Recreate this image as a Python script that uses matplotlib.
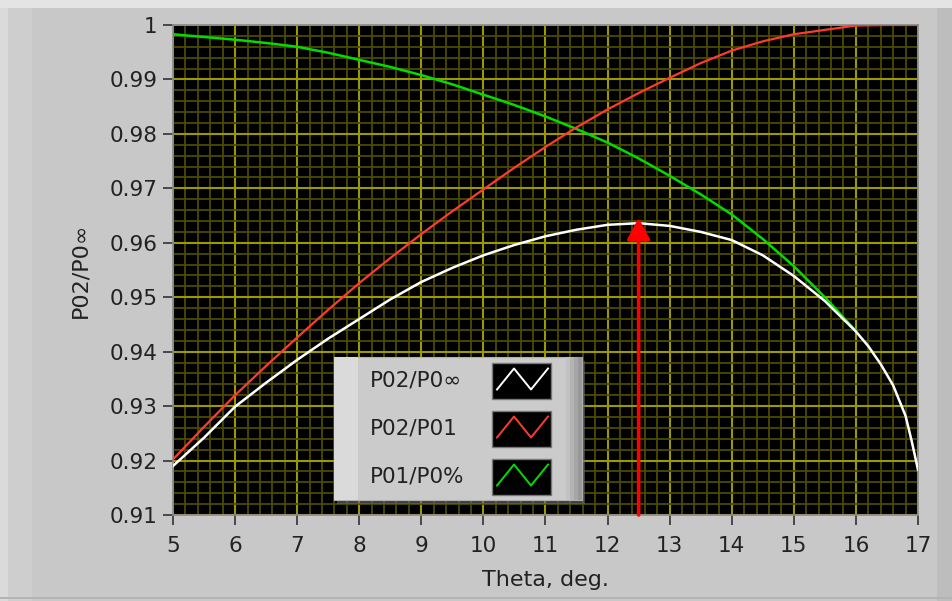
import matplotlib
matplotlib.use("Agg")
import matplotlib.pyplot as plt
from matplotlib.patches import Rectangle
from matplotlib.lines import Line2D
from matplotlib.ticker import MultipleLocator

# ---- data -------------------------------------------------------------
theta_main = [5, 5.5, 6, 6.5, 7, 7.5, 8, 8.5, 9, 9.5, 10, 10.5, 11, 11.5,
              12, 12.5, 13, 13.5, 14, 14.5, 15, 15.5, 16]
theta_tail = [16.2, 16.4, 16.6, 16.8, 16.9, 17]

p02_p0inf = [0.9190, 0.9242, 0.9299, 0.9343, 0.9385, 0.9424, 0.9460, 0.9496,
             0.9528, 0.9554, 0.9577, 0.9596, 0.9612, 0.9624, 0.9633, 0.9636,
             0.9631, 0.9620, 0.9605, 0.9577, 0.9539, 0.9493, 0.9437,
             0.9410, 0.9377, 0.9338, 0.9282, 0.9235, 0.9183]

theta_red = theta_main + [16.5, 17]
p02_p01 = [0.9202, 0.9262, 0.9320, 0.9374, 0.9426, 0.9477, 0.9526, 0.9572,
           0.9616, 0.9658, 0.9698, 0.9738, 0.9776, 0.9812, 0.9845, 0.9875,
           0.9903, 0.9930, 0.9953, 0.9970, 0.9983, 0.9991, 0.9999,
           1.0, 1.0]

p01_p0 = [0.9983, 0.9978, 0.9973, 0.9967, 0.9960, 0.9949, 0.9936, 0.9923,
          0.9908, 0.9891, 0.9872, 0.9853, 0.9832, 0.9809, 0.9784, 0.9755,
          0.9723, 0.9689, 0.9652, 0.9607, 0.9557, 0.9500, 0.9438]

series_names = ["P02/P0\u221e", "P02/P01", "P01/P0%"]
series_colors = ["#ffffff", "#ff3b30", "#00dd00"]

marker_theta = 12.5
marker_top = 0.9646
y_floor = 0.91

x_ticks = list(range(5, 18))
y_ticks = [0.91, 0.92, 0.93, 0.94, 0.95, 0.96, 0.97, 0.98, 0.99, 1.0]
y_tick_labels = ["0.91", "0.92", "0.93", "0.94", "0.95", "0.96", "0.97",
                 "0.98", "0.99", "1"]

# ---- figure -----------------------------------------------------------
W, H = 953, 601
fig = plt.figure(figsize=(W / 100, H / 100), dpi=100)
fig.patch.set_facecolor("#c8c8c8")

# panel bezel
fig.add_artist(Rectangle((0, 0), 1, 1, transform=fig.transFigure,
                         facecolor="#c8c8c8", edgecolor="none", zorder=-10))
fig.add_artist(Rectangle((0, 0), 8 / W, 1, transform=fig.transFigure,
                         facecolor="#dadada", edgecolor="none", zorder=-9))
fig.add_artist(Rectangle((8 / W, 0), 24 / W, 1 - 8 / H, transform=fig.transFigure,
                         facecolor="#cecece", edgecolor="none", zorder=-9))
fig.add_artist(Rectangle((0, 1 - 8 / H), 1, 8 / H, transform=fig.transFigure,
                         facecolor="#e4e4e4", edgecolor="none", zorder=-9))
fig.add_artist(Rectangle((937 / W, 0), 16 / W, 1 - 8 / H, transform=fig.transFigure,
                         facecolor="#bdbdbd", edgecolor="none", zorder=-9))
fig.add_artist(Rectangle((0, 2 / H), 1, 2 / H, transform=fig.transFigure,
                         facecolor="#b4b4b4", edgecolor="none", zorder=-9))

left, right, top, bottom = 173, 918, 25, 515
ax = fig.add_axes([left / W, 1 - bottom / H, (right - left) / W, (bottom - top) / H])
ax.set_facecolor("black")
ax.set_xlim(5, 17)
ax.set_ylim(0.91, 1.0)

ax.set_xticks(x_ticks)
ax.xaxis.set_minor_locator(MultipleLocator(0.2))
ax.set_yticks(y_ticks)
ax.set_yticklabels(y_tick_labels)
ax.yaxis.set_minor_locator(MultipleLocator(0.002))

ax.grid(which="major", color="#9c9800", lw=1.5, zorder=0)
ax.grid(which="minor", color="#4c4a00", lw=1.3, zorder=0)
ax.set_axisbelow(True)

ax.tick_params(which="major", direction="out", length=7, width=1.2,
               color="#333333", labelsize=15.5, labelcolor="#222222")
ax.tick_params(axis="x", which="major", pad=8)
ax.tick_params(axis="y", which="major", pad=4)
ax.tick_params(which="minor", length=0)
for s in ax.spines.values():
    s.set_color("#8a8a8a")
    s.set_linewidth(1.2)

ax.set_xlabel("Theta, deg.", fontsize=16, color="#222222", labelpad=10)
ax.set_ylabel("P02/P0\u221e", fontsize=16, color="#222222", labelpad=14)

# curves
ax.plot(theta_main, p01_p0, color=series_colors[2], lw=1.8, zorder=3)
ax.plot(theta_red, p02_p01, color=series_colors[1], lw=1.6, zorder=3)
ax.plot(theta_main + theta_tail, p02_p0inf, color=series_colors[0], lw=1.8, zorder=4)

# marker arrow at the peak
ax.annotate("", xy=(marker_theta, marker_top), xytext=(marker_theta, y_floor),
            arrowprops=dict(arrowstyle="-|>,head_length=0.6,head_width=0.32",
                            color="#ff0000", lw=2.6, shrinkA=0, shrinkB=0,
                            mutation_scale=22),
            zorder=6)

# ---- legend panel -----------------------------------------------------
def fx(px):
    return px / W


def fy(py):
    return 1 - py / H


lx0, lx1, ly0, ly1 = 334, 582, 357, 500
fig.add_artist(Rectangle((fx(lx0 + 3), fy(ly1 + 4)), fx(lx1 - lx0), (ly1 - ly0) / H,
                         transform=fig.transFigure, facecolor="#6a6a6a",
                         edgecolor="none", alpha=0.6, zorder=10))
fig.add_artist(Rectangle((fx(lx0), fy(ly1)), fx(lx1 - lx0), (ly1 - ly0) / H,
                         transform=fig.transFigure, facecolor="#cbcbcb",
                         edgecolor="#b0b0b0", lw=0.8, zorder=11))
fig.add_artist(Rectangle((fx(lx0), fy(ly1)), fx(24), (ly1 - ly0) / H,
                         transform=fig.transFigure, facecolor="#dadada",
                         edgecolor="none", zorder=12))
for i, c in enumerate(["#c2c2c2", "#b4b4b4", "#a6a6a6", "#989898"]):
    fig.add_artist(Rectangle((fx(lx1 - 16 + i * 4), fy(ly1)), fx(4), (ly1 - ly0) / H,
                             transform=fig.transFigure, facecolor=c,
                             edgecolor="none", zorder=12))

row_y = [380.5, 428.5, 476.5]
for name, col, ry in zip(series_names, series_colors, row_y):
    fig.text(fx(370), fy(ry), name, fontsize=15.5, color="#222222",
             ha="left", va="center", zorder=13)
    fig.add_artist(Rectangle((fx(492), fy(ry + 18)), fx(59), 36 / H,
                             transform=fig.transFigure, facecolor="black",
                             edgecolor="#777777", lw=1.0, zorder=13))
    zx = [497, 514, 531, 548]
    zy = [ry + 9, ry - 12, ry + 9, ry - 12]
    fig.add_artist(Line2D([fx(v) for v in zx], [fy(v) for v in zy],
                          transform=fig.transFigure, color=col, lw=1.4,
                          zorder=14))

fig.savefig("out.png", dpi=100, facecolor=fig.get_facecolor())
